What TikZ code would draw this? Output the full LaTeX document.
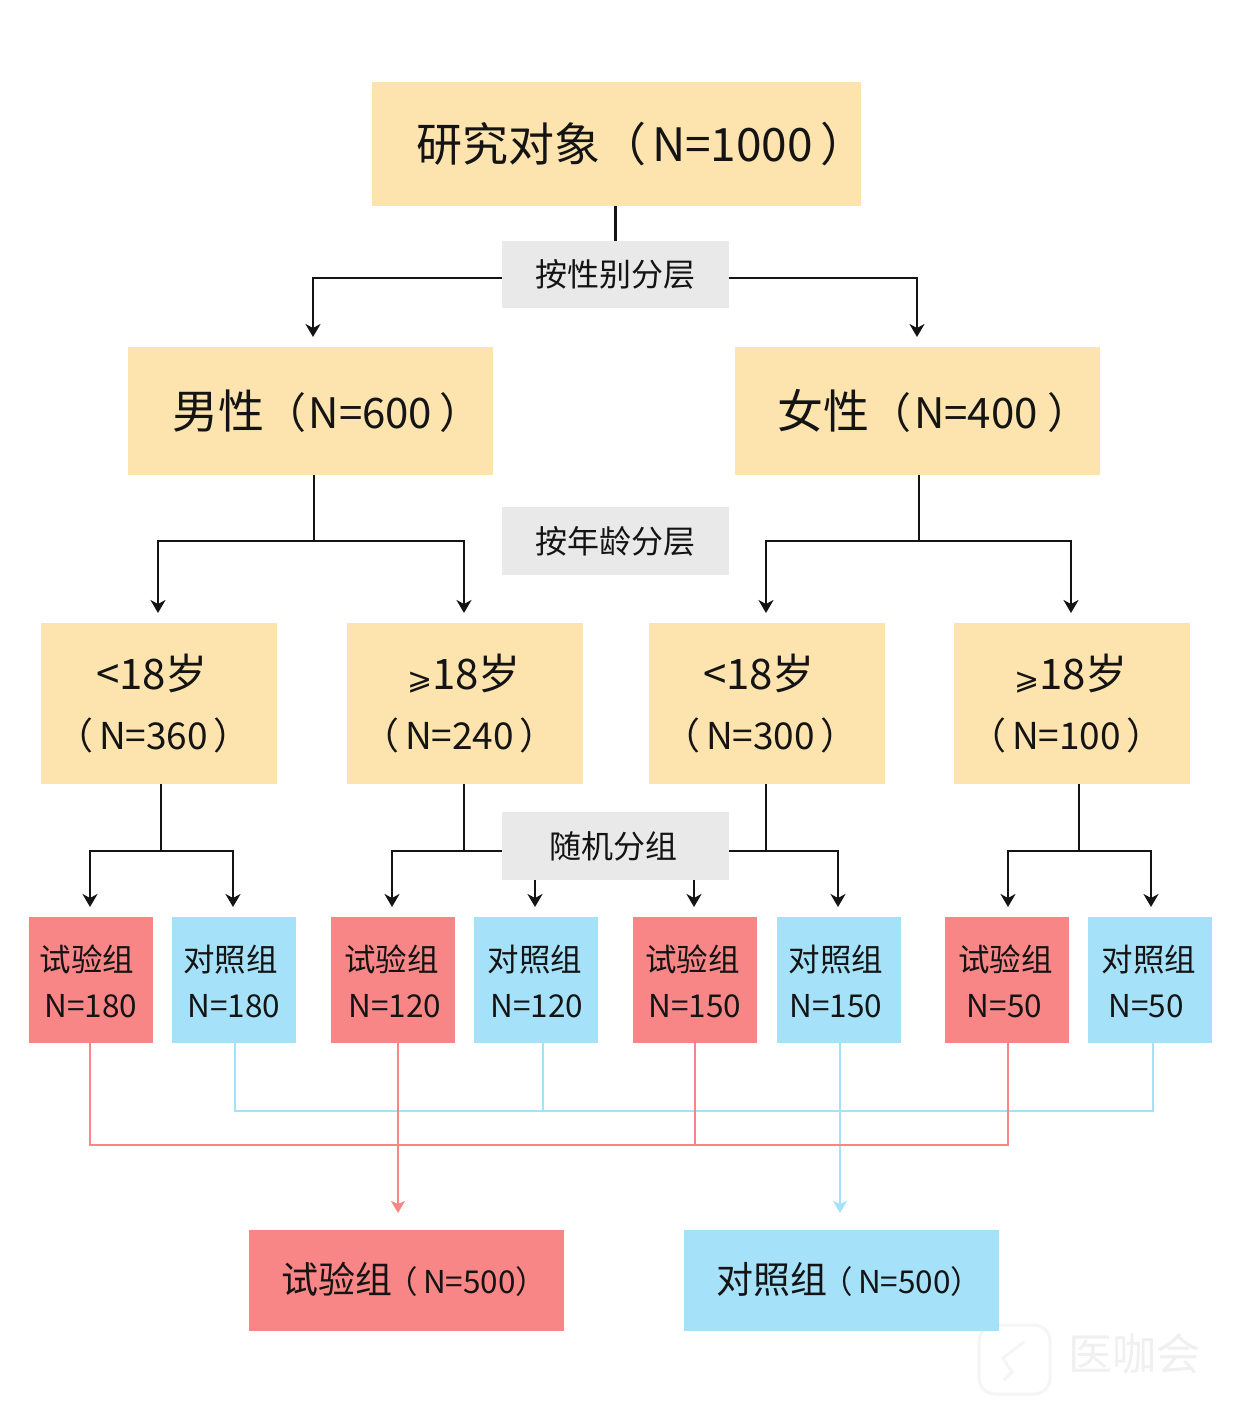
\documentclass[tikz,border=0pt]{standalone}
\usepackage{fontspec}
\setmainfont{Noto Sans CJK SC}
\newfontfamily\mathsym{DejaVu Sans}
\usetikzlibrary{arrows.meta,calc}
\definecolor{cream}{HTML}{FDE3AE}
\definecolor{pinkc}{HTML}{F98686}
\definecolor{bluec}{HTML}{A5E2FA}
\definecolor{greyc}{HTML}{E9E9E9}
\definecolor{inkc}{HTML}{141414}
\newcommand{\fs}[1]{\fontsize{#1}{#1}\selectfont}
\newcommand{\boxat}[7]{\node[#6,minimum width=#4pt-#2pt,minimum height=#5pt-#3pt] (#1) at ({(#2+#4)/2},{(#3+#5)/2}) {#7};}
% one line of a box: shift right, shift down, text
\newcommand{\tl}[3]{\raisebox{-#2pt}[0pt][0pt]{\mbox{\kern#1pt\relax #3\kern-#1pt}}}
\newcommand{\agefont}{\fontsize{42}{61}\selectfont}
\newcommand{\grpfont}{\fontsize{31.5}{46}\selectfont}
\newcommand{\gesym}{{\mathsym\fs{30}⩾}}
\newcommand{\agetwo}[1]{\fs{37}\kern-1pt（\kern6pt N=#1\kern6pt）}
\newcommand{\finaltext}[1]{\fs{37}#1\fs{31.5}\kern-6pt（\kern5pt N=500）}
\tikzset{
 x=1pt,y=-1pt,
 basebox/.style={inner sep=0pt,outer sep=0pt,text=inkc,align=center},
 creambox/.style={basebox,fill=cream},
 agebox/.style={creambox,font=\agefont},
 pinkbox/.style={basebox,fill=pinkc},
 bluebox/.style={basebox,fill=bluec},
 pinkgrp/.style={pinkbox,font=\grpfont},
 bluegrp/.style={bluebox,font=\grpfont},
 greybox/.style={basebox,fill=greyc},
 blk/.style={draw=inkc,line width=2.5pt},
 blkarrow/.style={blk,-{Stealth[length=13pt,width=15pt,inset=4pt]},shorten >=10pt},
 pinkline/.style={draw=pinkc,line width=2pt},
 blueline/.style={draw=bluec,line width=2pt},
 pinkarrow/.style={pinkline,-{Stealth[length=12pt,width=14pt,inset=3pt]},shorten >=17pt},
 bluearrow/.style={blueline,-{Stealth[length=12pt,width=14pt,inset=3pt]},shorten >=17pt},
}
\begin{document}
\begin{tikzpicture}
\useasboundingbox (0,0) rectangle (1242,1428);
\fill[white] (0,0) rectangle (1242,1428);
% watermark
\draw[draw=black!4,line width=3pt,rounded corners=16pt] (979,1325) rectangle (1050,1394);
\draw[draw=black!4,line width=3pt] (1024,1342) -- (1003,1358) -- (1012,1372) -- (1004,1380);
\node[text=black!6,inner sep=0pt] (wm) at (1134,1354) {\fs{44}医咖会};
% boxes
\boxat{root}{372}{82}{861}{206}{creambox}{\tl{25}{17}{\fs{46}研究对象（\kern6pt N=1000\kern8pt）}}
\boxat{sexl}{502}{241}{729}{308}{greybox}{\fs{32}\tl{0}{12}{按性别分层}}
\boxat{male}{128}{347}{493}{475}{creambox}{\hspace*{33pt}\fs{46}男性\fs{42}（\kern2pt N=600\kern7pt）}
\boxat{female}{735}{347}{1100}{475}{creambox}{\hspace*{32pt}\fs{46}女性\fs{42}（\kern3pt N=400\kern10pt）}
\boxat{agel}{502}{507}{729}{575}{greybox}{\fs{32}按年龄分层}
\boxat{aa}{41}{623}{277}{784}{agebox}{\tl{-7}{16}{<18岁}\\\tl{-5}{15}{\agetwo{360}}}
\boxat{ab}{347}{623}{583}{784}{agebox}{\tl{-1}{16}{\gesym 18岁}\\\tl{-5}{15}{\agetwo{240}}}
\boxat{ac}{649}{623}{885}{784}{agebox}{\tl{-8}{16}{<18岁}\\\tl{-6}{15}{\agetwo{300}}}
\boxat{ad}{954}{623}{1190}{784}{agebox}{\tl{-1}{16}{\gesym 18岁}\\\tl{-5}{15}{\agetwo{100}}}
\boxat{randl}{502}{812}{729}{880}{greybox}{\fs{32}\tl{-2}{12}{随机分组}}
\boxat{ga}{29}{917}{153}{1043}{pinkgrp}{\tl{-4}{14}{试验组}\\\tl{0}{14}{N=180}}
\boxat{gb}{172}{917}{296}{1043}{bluegrp}{\tl{-3.5}{14}{对照组}\\\tl{0}{14}{N=180}}
\boxat{gc}{331}{917}{455}{1043}{pinkgrp}{\tl{-1.5}{14}{试验组}\\\tl{2}{14}{N=120}}
\boxat{gd}{474}{917}{598}{1043}{bluegrp}{\tl{-1}{14}{对照组}\\\tl{1}{14}{N=120}}
\boxat{ge}{633}{917}{757}{1043}{pinkgrp}{\tl{-2.5}{14}{试验组}\\\tl{0}{14}{N=150}}
\boxat{gf}{777}{917}{901}{1043}{bluegrp}{\tl{-3}{14}{对照组}\\\tl{-3}{14}{N=150}}
\boxat{gg}{945}{917}{1069}{1043}{pinkgrp}{\tl{-1.5}{14}{试验组}\\\tl{-2.5}{14}{N=50}}
\boxat{gh}{1088}{917}{1212}{1043}{bluegrp}{\tl{-1}{14}{对照组}\\\tl{-4}{14}{N=50}}
\boxat{fa}{249}{1230}{564}{1331}{pinkbox}{\tl{8}{13}{\finaltext{试验组}}}
\boxat{fb}{684}{1230}{999}{1331}{bluebox}{\tl{8}{13}{\finaltext{对照组}}}
% black connectors
\coordinate (s1) at (313,278);
\coordinate (s2) at (917,278);
\draw[blk] (root.south -| sexl.north) -- (sexl.north);
\draw[blkarrow] (sexl.west |- s1) -- (s1) -- (s1 |- male.north);
\draw[blkarrow] (sexl.east |- s2) -- (s2) -- (s2 |- female.north);
\coordinate (j1) at (314,541);
\coordinate (j2) at (919,541);
\draw[blk] (j1 |- male.south) -- (j1);
\draw[blkarrow] (j1) -- (158,541) -- (158,541 |- aa.north);
\draw[blkarrow] (j1) -- (464,541) -- (464,541 |- ab.north);
\draw[blk] (j2 |- female.south) -- (j2);
\draw[blkarrow] (j2) -- (766,541) -- (766,541 |- ac.north);
\draw[blkarrow] (j2) -- (1071,541) -- (1071,541 |- ad.north);
\coordinate (k1) at (161,851);
\coordinate (k2) at (464,851);
\coordinate (k3) at (766,851);
\coordinate (k4) at (1079,851);
\draw[blk] (k1 |- aa.south) -- (k1);
\draw[blkarrow] (k1) -- (90,851) -- (90,851 |- ga.north);
\draw[blkarrow] (k1) -- (233,851) -- (233,851 |- gb.north);
\draw[blk] (k2 |- ab.south) -- (k2);
\draw[blkarrow] (randl.west |- k2) -- (392,851) -- (392,851 |- gc.north);
\draw[blk] (k3 |- ac.south) -- (k3);
\draw[blkarrow] (randl.east |- k3) -- (838,851) -- (838,851 |- gf.north);
\draw[blkarrow] (535,880 |- randl.south) -- (535,880 |- gd.north);
\draw[blkarrow] (694,880 |- randl.south) -- (694,880 |- ge.north);
\draw[blk] (k4 |- ad.south) -- (k4);
\draw[blkarrow] (k4) -- (1008,851) -- (1008,851 |- gg.north);
\draw[blkarrow] (k4) -- (1151,851) -- (1151,851 |- gh.north);
% blue collection
\draw[blueline] (235,1043 |- gb.south) -- (235,1111) -- (1153,1111) -- (1153,1043 |- gh.south);
\draw[blueline] (543,1043 |- gd.south) -- (543,1111);
\draw[bluearrow] (840,1043 |- gf.south) -- (840,1043 |- fb.north);
% pink collection
\draw[pinkline] (90,1043 |- ga.south) -- (90,1145) -- (1008,1145) -- (1008,1043 |- gg.south);
\draw[pinkline] (695,1043 |- ge.south) -- (695,1145);
\draw[pinkarrow] (398,1043 |- gc.south) -- (398,1043 |- fa.north);
\end{tikzpicture}
\end{document}
